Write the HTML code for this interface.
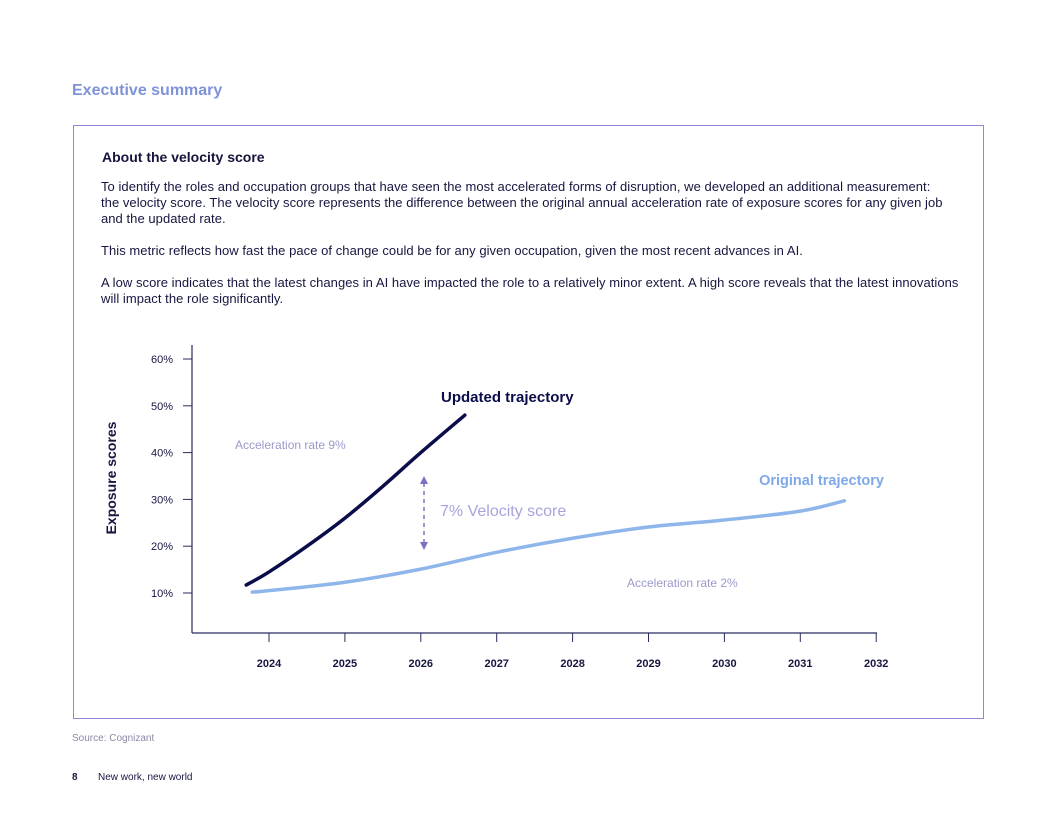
<!DOCTYPE html>
<html><head><meta charset="utf-8"><style>
body{margin:0;width:1056px;height:816px;background:#fff;font-family:"Liberation Sans",sans-serif;color:#161640;position:relative;overflow:hidden}
.abs{position:absolute}
p{margin:0;white-space:nowrap}
.body{font-size:13px;letter-spacing:0.05px;line-height:16px;color:#161640}
</style></head><body>
<div class="abs" style="left:72px;top:82px;font-size:16px;font-weight:bold;color:#7f93d8">Executive summary</div>
<div class="abs" style="left:73px;top:125px;width:909px;height:592px;border:1.3px solid #8d88d8"></div>
<div class="abs" style="left:102px;top:149px;font-size:14px;font-weight:bold;color:#14143c">About the velocity score</div>
<div class="abs body" style="left:101px;top:179px;width:860px">
<p>To identify the roles and occupation groups that have seen the most accelerated forms of disruption, we developed an additional measurement:<br>the velocity score. The velocity score represents the difference between the original annual acceleration rate of exposure scores for any given job<br>and the updated rate.</p>
<p style="margin-top:16px">This metric reflects how fast the pace of change could be for any given occupation, given the most recent advances in AI.</p>
<p style="margin-top:16px">A low score indicates that the latest changes in AI have impacted the role to a relatively minor extent. A high score reveals that the latest innovations<br>will impact the role significantly.</p>
</div>
<svg class="abs" style="left:0;top:0" width="1056" height="816">
<g id="axes"></g><g id="series"></g>
<text x="0" y="0" transform="translate(116,478) rotate(-90)" text-anchor="middle" font-size="14" font-weight="bold" fill="#161640">Exposure scores</text>
<text x="441" y="402" font-size="15" font-weight="bold" fill="#0b0d4a">Updated trajectory</text>
<text x="884" y="485" text-anchor="end" font-size="14.5" font-weight="bold" fill="#7fa8e6">Original trajectory</text>
<text x="235" y="449" font-size="12" fill="#9a9ac8">Acceleration rate 9%</text>
<text x="627" y="587" font-size="12" fill="#9a9ac8">Acceleration rate 2%</text>
<text x="440" y="516" font-size="16" fill="#a6a4dc">7% Velocity score</text>
<line x1="424" y1="483" x2="424" y2="543" stroke="#7a72c0" stroke-width="1.5" stroke-dasharray="4,4"/>
<polygon points="420,484 428,484 424,476" fill="#7a72c0"/>
<polygon points="420,542 428,542 424,550" fill="#7a72c0"/>
</svg>
<div class="abs" style="left:72px;top:733px;font-size:10px;color:#8a8aa8">Source: Cognizant</div>
<div class="abs" style="left:72px;top:772px;font-size:10px;font-weight:bold">8</div>
<div class="abs" style="left:98px;top:772px;font-size:10px">New work, new world</div>
<script>
const yTicks=[10,20,30,40,50,60];
const xYears=[2024,2025,2026,2027,2028,2029,2030,2031,2032];
const updYears=[2023.7,2024,2024.5,2025,2025.5,2026,2026.58];
const updVals=[11.7,14.5,20,26,32.8,40,48];
const origYears=[2023.78,2024,2025,2026,2027,2028,2029,2030,2031,2031.58];
const origVals=[10.2,10.5,12.3,15.1,18.7,21.7,24.1,25.6,27.5,29.7];
const NS="http://www.w3.org/2000/svg";
const xs=y=>269+(y-2024)*75.9;
const ys=v=>639.8-v*4.68;
function mk(tag,attrs,parent){const e=document.createElementNS(NS,tag);for(const k in attrs)e.setAttribute(k,attrs[k]);parent.appendChild(e);return e;}
const ax=document.getElementById('axes'),se=document.getElementById('series');
let l=mk('line',{x1:192,y1:345,x2:192,y2:633,stroke:'#2a2a60','stroke-width':1.2},ax);


l=mk('line',{x1:192,y1:633,x2:877,y2:633,stroke:'#2a2a60','stroke-width':1.2},ax);


yTicks.forEach(v=>{const y=ys(v);
 const t=mk('line',{x1:183,y1:y,x2:192,y2:y,stroke:'#2a2a60','stroke-width':1},ax);
 
 
 const tx=mk('text',{x:173,y:y+4,'text-anchor':'end','font-size':11,fill:'#161640'},ax);tx.textContent=v+'%';
 
 
});
xYears.forEach(yr=>{const x=xs(yr);
 const t=mk('line',{x1:x,y1:633,x2:x,y2:642,stroke:'#2a2a60','stroke-width':1},ax);
 
 
 const tx=mk('text',{x:x,y:667,'text-anchor':'middle','font-size':11,'font-weight':'bold',fill:'#161640'},ax);tx.textContent=yr;
 
 
});
function smooth(xa,va){const p=xa.map((x,i)=>[xs(x),ys(va[i])]);let d='M'+p[0];
 for(let i=0;i<p.length-1;i++){const p0=p[i-1]||p[i],p1=p[i],p2=p[i+1],p3=p[i+2]||p2;
 const c1=[p1[0]+(p2[0]-p0[0])/6,p1[1]+(p2[1]-p0[1])/6],c2=[p2[0]-(p3[0]-p1[0])/6,p2[1]-(p3[1]-p1[1])/6];
 d+=' C'+c1+' '+c2+' '+p2;}return d;}
let o=mk('path',{d:smooth(origYears,origVals),fill:'none',stroke:'#8fb6ea','stroke-width':3.5,'stroke-linecap':'round'},se);


let u=mk('path',{d:smooth(updYears,updVals),fill:'none',stroke:'#0b0d4a','stroke-width':3.5,'stroke-linecap':'round'},se);


</script>
</body></html>
